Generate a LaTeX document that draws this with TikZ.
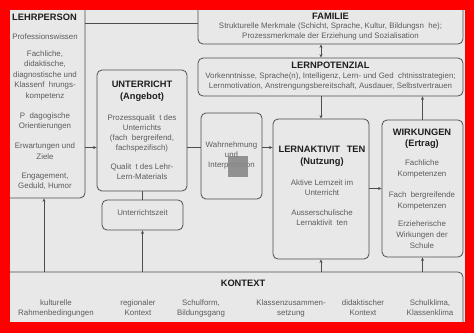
\documentclass[tikz,border=0pt]{standalone}
\usepackage{fontspec}
\setmainfont{Liberation Sans}
\usetikzlibrary{positioning,arrows.meta}
\definecolor{framered}{HTML}{FF0000}
\definecolor{paper}{HTML}{E8E8E8}
\definecolor{rule}{HTML}{4D4D4D}
\definecolor{inktext}{HTML}{5C5C5C}
\definecolor{inkhead}{HTML}{1E1E1E}
\definecolor{blot}{HTML}{888888}
\newcommand{\miss}{\hspace{0.55em}}
\newcommand{\missbig}{\hspace{0.72em}}
\tikzset{
  box/.style={draw=rule,line width=0.8pt,rounded corners=5pt,inner sep=0pt},
  head/.style={font=\fontsize{9.3}{12.5}\selectfont\bfseries,text=inkhead,align=center,inner sep=0pt,anchor=north},
  body/.style={font=\fontsize{7.9}{10}\selectfont,text=inktext,align=center,inner sep=0pt,anchor=north},
  link/.style={draw=rule,line width=0.7pt},
  arr/.style={link,-{Stealth[length=3.5pt,width=3pt]}},
  twoarr/.style={link,{Stealth[length=3.5pt,width=3pt]}-{Stealth[length=3.5pt,width=3pt]}},
}

\begin{document}
\begin{tikzpicture}[x=1pt,y=-1pt]
  \useasboundingbox (0,0) rectangle (474,333);
  \fill[framered] (0,0) rectangle (474,333);
  \fill[paper] (10,10) rectangle (465,322);
  \begin{scope}
  \clip (10,10) rectangle (465,322);
  % boxes
  \node[box,minimum width=82pt,minimum height=195pt] (lehr) at (44,100.5) {};
  \node[box,minimum width=265pt,minimum height=41pt] (fam) at (330.5,23.5) {};
  \node[box,minimum width=265pt,minimum height=38pt] (lp) at (330.5,77) {};
  \node[box,minimum width=90pt,minimum height=121pt] (unt) at (142,130.5) {};
  \node[box,minimum width=81pt,minimum height=30pt] (uzeit) at (142.5,215) {};
  \node[box,minimum width=61pt,minimum height=86pt] (wahr) at (231.5,156) {};
  \node[box,minimum width=96pt,minimum height=140pt] (la) at (321,189) {};
  \node[box,minimum width=81pt,minimum height=137pt] (wirk) at (422.5,188.5) {};
  \node[box,minimum width=460pt,minimum height=58pt] (kon) at (233,301) {};
  \coordinate (row) at (0,147.5);

  % texts
  \node[head,anchor=north west] (lehrhead) at (12,13.6) {LEHRPERSON};
  \node[body,font=\fontsize{7.9}{10.5}\selectfont] (lehrbody) at (45,34)
    {Professionswissen\\[6pt] Fachliche,\\didaktische,\\diagnostische und\\Klassenf\miss hrungs-\\kompetenz\\[9.5pt]
     P\miss dagogische\\Orientierungen\\[9.5pt] Erwartungen und\\Ziele\\[8.5pt] Engagement,\\Geduld, Humor};
  \node[head] (famhead) at (330.5,12.6) {FAMILIE};
  \node[body,font=\fontsize{7.9}{9.5}\selectfont] (fambody) at (330.5,23)
    {Strukturelle Merkmale (Schicht, Sprache, Kultur, Bildungsn\miss he);\\Prozessmerkmale der Erziehung und Sozialisation};
  \node[head] (lphead) at (330.5,61.6) {LERNPOTENZIAL};
  \node[body] (lpbody) at (330.5,73)
    {Vorkenntnisse, Sprache(n), Intelligenz, Lern- und Ged\miss chtnisstrategien;\\Lernmotivation, Anstrengungsbereitschaft, Ausdauer, Selbstvertrauen};
  \node[head] (unthead) at (142,80.6) {UNTERRICHT\\(Angebot)};
  \node[body] (untbody) at (142,115)
    {Prozessqualit\miss t des\\Unterrichts\\(fach\miss bergreifend,\\fachspezifisch)\\[9pt] Qualit\miss t des Lehr-\\Lern-Materials};
  \node[body] (uzeittxt) at (142.5,210) {Unterrichtszeit};
  \node[body] (wahrtxt) at (231.5,142) {Wahrnehmung\\und\\Interpretation};
  \node[head] (lahead) at (322,145.6) {LERNAKTIVIT\missbig TEN\\(Nutzung)};
  \node[body] (labody) at (322,180)
    {Aktive Lernzeit im\\Unterricht\\[10pt] Ausserschulische\\Lernaktivit\miss ten};
  \node[head,font=\fontsize{9.3}{11}\selectfont\bfseries] (wirkhead) at (422,128.6) {WIRKUNGEN\\(Ertrag)};
  \node[body,font=\fontsize{7.9}{11}\selectfont] (wirkbody) at (422,160)
    {Fachliche\\Kompetenzen\\[10pt] Fach\miss bergreifende\\Kompetenzen\\[7pt] Erzieherische\\Wirkungen der\\Schule};
  \node[head] (konhead) at (243,279.6) {KONTEXT};
  \node[body,font=\fontsize{7.9}{9.5}\selectfont] (kon1) at (56,300) {kulturelle\\Rahmenbedingungen};
  \node[body,font=\fontsize{7.9}{9.5}\selectfont] (kon2) at (138,300) {regionaler\\Kontext};
  \node[body,font=\fontsize{7.9}{9.5}\selectfont] (kon3) at (201,300) {Schulform,\\Bildungsgang};
  \node[body,font=\fontsize{7.9}{9.5}\selectfont] (kon4) at (291,300) {Klassenzusammen-\\setzung};
  \node[body,font=\fontsize{7.9}{9.5}\selectfont] (kon5) at (363,300) {didaktischer\\Kontext};
  \node[body,font=\fontsize{7.9}{9.5}\selectfont] (kon6) at (430,300) {Schulklima,\\Klassenklima};
  \fill[blot,opacity=0.9] (228,156) rectangle (248,177);

  % connectors
  \draw[link] (lehr.east |- fam.west) -- (fam.west);
  \draw[twoarr] (fam.south -| la.north) -- (lp.north -| la.north);
  \draw[arr] (lp.south -| la.north) -- (la.north);
  \draw[arr] (wirk.north) -- (lp.south -| wirk.north);
  \draw[arr] (lehr.east |- row) -- (unt.west |- row);
  \draw[link] (unt.east |- row) -- (wahr.west |- row);
  \draw[arr] (wahr.east |- row) -- (la.west |- row);
  \draw[arr] (la.east |- wirk.west) -- (wirk.west);
  \draw[link] (unt.south -| uzeit.north) -- (uzeit.north);
  \draw[arr] (kon.north -| lehr.south) -- (lehr.south);
  \draw[arr] (kon.north -| uzeit.south) -- (uzeit.south);
  \draw[arr] (kon.north -| la.south) -- (la.south);
  \draw[arr] (kon.north -| wirk.south) -- (wirk.south);
  \end{scope}
\end{tikzpicture}
\end{document}
